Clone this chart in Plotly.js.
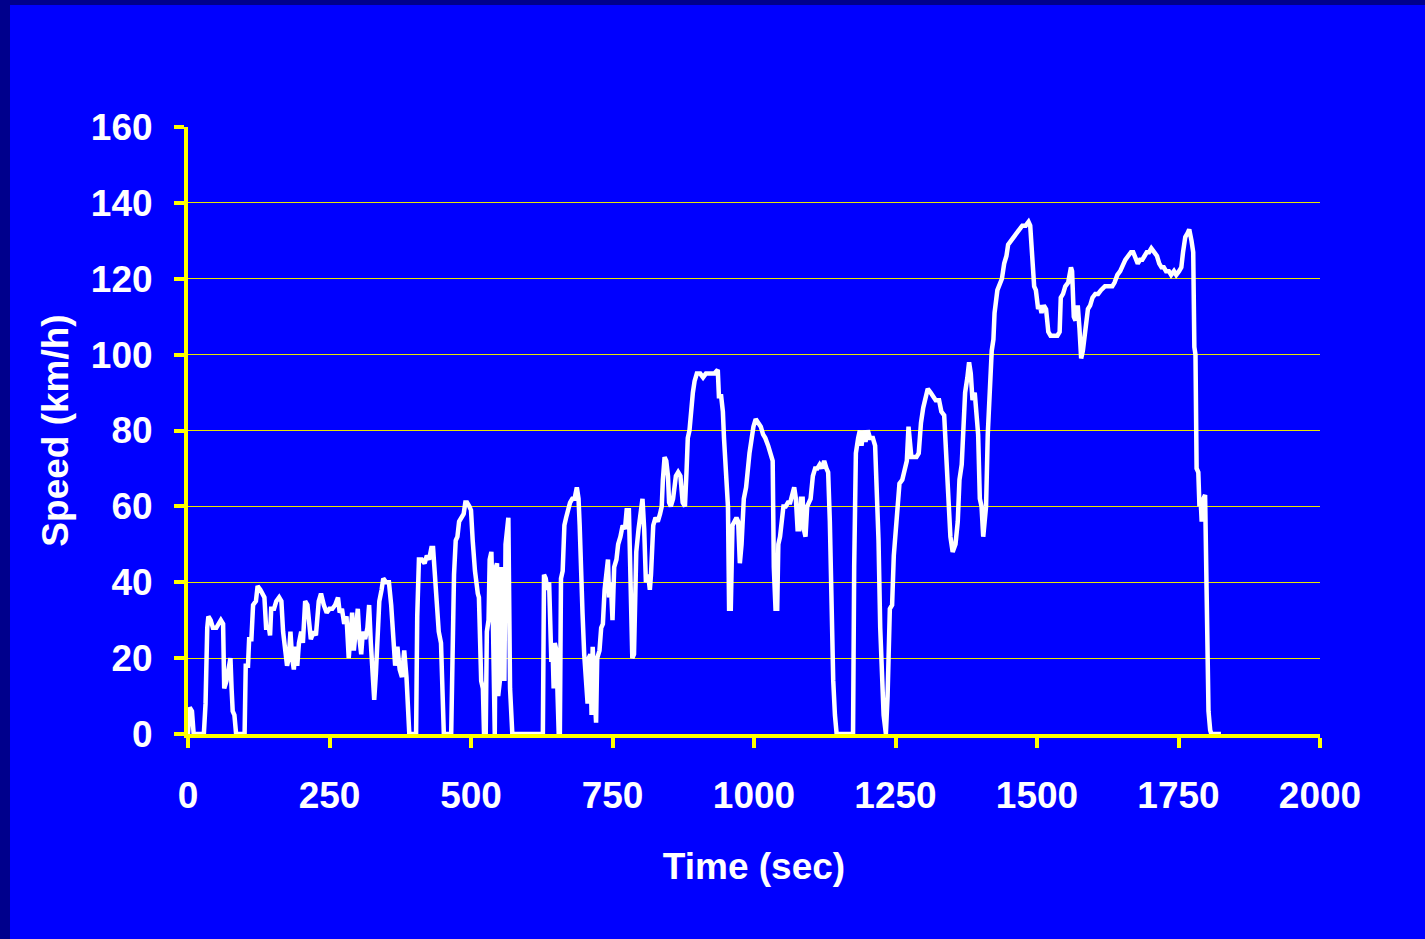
<!DOCTYPE html>
<html>
<head>
<meta charset="utf-8">
<script src="https://cdn.plot.ly/plotly-3.0.1.min.js"></script>
<style>
  html, body { margin: 0; padding: 0; background: #00008C; width: 1425px; height: 939px; overflow: hidden; }
  #chart { position: absolute; left: 10px; top: 5px; width: 1415px; height: 934px; }
</style>
</head>
<body>
<div id="chart"></div>
<script>
const timeSec = [
  0,3,7,8,10,28,31,34,36,40,44,50,54,58,62,64,68,72,75,77,79,82,85,100,
  102,106,108,112,115,120,123,128,131,135,138,143,145,147,152,156,161,165,168,172,175,178,181,184,187,190,193,196,
  200,203,207,211,214,217,222,226,231,235,240,245,250,255,260,265,268,272,276,280,284,287,290,293,296,
  300,303,306,309,313,317,320,323,326,329,332,335,338,342,345,350,355,359,363,366,370,374,378,382,386,389,391,
  403,405,408,413,418,422,426,430,433,436,440,443,447,450,452,465,468,470,473,476,479,484,487,490,493,497,
  500,503,507,512,514,518,521,523,526,528,531,533,536,538,540,542,544,546,548,551,553,555,557,559,561,563,566,569,571,573,
  627,629,632,635,638,640,642,644,646,648,651,653,655,657,659,662,665,668,671,675,679,683,687,690,692,694,697,
  700,703,706,708,711,713,715,718,721,723,727,730,733,736,740,742,744,747,750,753,757,760,764,768,772,775,779,782,785,788,790,792,796,
  800,803,806,809,813,816,818,822,826,830,834,837,839,842,845,848,850,853,857,862,866,870,874,878,881,883,886,889,892,895,899,
  905,910,915,920,925,930,936,938,942,945,947,951,954,956,959,962,965,969,972,975,978,982,986,989,992,995,999,
  1003,1008,1012,1016,1020,1025,1030,1033,1035,1038,1041,1043,1046,1049,1052,1056,1060,1064,1068,1071,1074,1077,1080,1083,1086,1088,1091,1094,1097,
  1100,1104,1108,1112,1116,1120,1124,1128,1131,1134,1137,1140,1143,1146,1148,1175,1177,1180,1184,1187,1190,1193,1197,
  1201,1205,1210,1214,1217,1220,1223,1226,1229,1233,1236,1240,1244,1247,1251,1254,1257,1262,1266,1270,1273,1276,1278,1282,1287,1291,1295,1299,
  1303,1307,1312,1316,1321,1327,1331,1336,1340,1343,1347,1351,1356,1360,1363,1367,1370,1373,1377,1380,1383,1386,1390,1393,1396,1399,
  1402,1405,1408,1410,1413,1417,1420,1423,1425,1430,1434,1438,1442,1446,1449,1454,1459,1464,1468,1474,1480,1485,1488,1491,1495,1498,
  1502,1505,1508,1512,1516,1520,1524,1530,1536,1540,1542,1546,1550,1555,1560,1562,1565,1568,1572,1575,1578,1581,1585,1590,1594,1598,
  1603,1608,1613,1620,1627,1633,1637,1642,1647,1652,1656,1661,1666,1670,1674,1678,1682,1686,1690,1694,1698,
  1702,1707,1712,1716,1720,1724,1728,1733,1737,1742,1746,1751,1755,1758,1762,1766,1769,1773,1776,1778,1780,1782,1785,1787,1789,1791,1794,1797,1799,
  1801,1803,1806,1808,1825
];
const speedKmh = [
  0,7,6,2,0,0,8,28,31,30,28,28,29,30,29,12,14,17,20,12,6,5,0,0,
  18,18,25,25,34,35,39,38,37,36,28,28,26,33,33,35,36,35,27,21,18,20,27,20,17,23,18,24,
  27,24,35,34,28,25,27,26,35,37,34,32,33,33,34,36,32,33,29,31,20,26,32,22,26,
  33,25,21,27,25,28,34,24,14,9,16,30,35,38,41,40,40,34,22,18,23,17,15,22,15,5,0,
  0,31,46,46,45,47,46,49,49,41,30,27,24,7,0,0,26,42,51,52,56,57,58,61,61,60,
  59,51,43,37,36,14,12,0,0,27,30,46,48,36,12,0,44,45,10,14,44,42,20,14,50,54,57,12,2,0,
  0,42,41,38,40,20,19,23,12,24,22,10,0,0,41,43,55,57,59,61,62,62,65,62,55,42,32,
  21,15,8,20,21,5,23,12,3,20,22,28,29,38,44,46,36,40,30,44,46,50,52,55,54,59,59,35,20,21,40,48,54,
  60,62,54,40,42,38,42,55,57,56,58,60,67,73,72,68,61,60,62,68,69,68,61,60,70,78,80,87,90,93,95,
  95,94,95,95,95,95,96,89,89,85,78,69,60,33,33,55,56,57,56,45,50,62,65,71,74,77,81,
  83,82,81,79,78,76,73,72,44,33,33,50,52,57,60,60,61,61,64,65,62,54,54,62,62,54,52,60,61,
  62,68,70,70,71,70,72,70,69,56,33,14,5,0,0,0,44,74,78,80,76,80,77,
  80,78,78,76,64,51,28,12,5,0,10,33,34,47,55,58,66,67,69,72,81,74,73,73,73,74,82,86,
  88,91,90,89,88,88,85,84,73,60,52,48,50,56,67,71,83,90,94,98,95,88,90,82,79,62,
  60,52,58,60,79,92,101,104,111,117,119,120,124,126,129,130,131,132,133,134,134,135,134,127,118,117,
  112,113,111,113,112,106,105,105,105,106,115,116,118,119,123,122,110,109,113,107,99,101,107,112,113,115,
  116,116,117,118,118,118,119,121,122,124,125,126,127,127,125,124,125,125,126,127,127,
  128,127,126,124,123,123,122,122,121,122,121,122,123,127,131,132,133,130,127,102,100,70,69,60,62,56,62,63,43,
  40,6,1,0,0
];
const xTickVals = [0, 250, 500, 750, 1000, 1250, 1500, 1750, 2000];
const yTickVals = [0, 20, 40, 60, 80, 100, 120, 140, 160];

const tickFont = { family: 'Liberation Sans, Arial, sans-serif', size: 37, color: '#FFFFFF', weight: 'bold' };
const titleFont = { family: 'Liberation Sans, Arial, sans-serif', size: 37, color: '#FFFFFF', weight: 'bold' };

const trace = {
  x: timeSec,
  y: speedKmh,
  type: 'scatter',
  mode: 'lines',
  line: { color: '#FFFFFF', width: 4.5, shape: 'linear' },
  hoverinfo: 'x+y',
  showlegend: false
};

const layout = {
  width: 1415,
  height: 934,
  paper_bgcolor: '#0000FF',
  plot_bgcolor: '#0000FF',
  margin: { l: 178, r: 105, t: 122, b: 205, pad: 0 },
  showlegend: false,
  xaxis: {
    range: [0, 2000],
    tickvals: xTickVals,
    ticktext: xTickVals.map(String),
    showgrid: false,
    zeroline: false,
    showline: true,
    linecolor: '#FFFF00',
    linewidth: 4,
    ticks: 'outside',
    ticklen: 10,
    tickwidth: 4,
    tickcolor: '#FFFF00',
    tickfont: tickFont,
    ticklabelstandoff: 16,
    layer: 'below traces',
    title: { text: 'Time (sec)', font: titleFont, standoff: 39 }
  },
  yaxis: {
    range: [0, 160],
    tickvals: yTickVals,
    ticktext: yTickVals.map(String),
    showgrid: true,
    gridcolor: '#E6E600',
    gridwidth: 1,
    zeroline: false,
    showline: true,
    linecolor: '#FFFF00',
    linewidth: 4,
    ticks: 'outside',
    ticklen: 10,
    tickwidth: 4,
    tickcolor: '#FFFF00',
    tickfont: tickFont,
    ticklabelstandoff: 14,
    layer: 'below traces',
    title: { text: 'Speed (km/h)', font: titleFont, standoff: 12 }
  }
};

Plotly.newPlot('chart', [trace], layout, { displayModeBar: false, staticPlot: true });
</script>
</body>
</html>
